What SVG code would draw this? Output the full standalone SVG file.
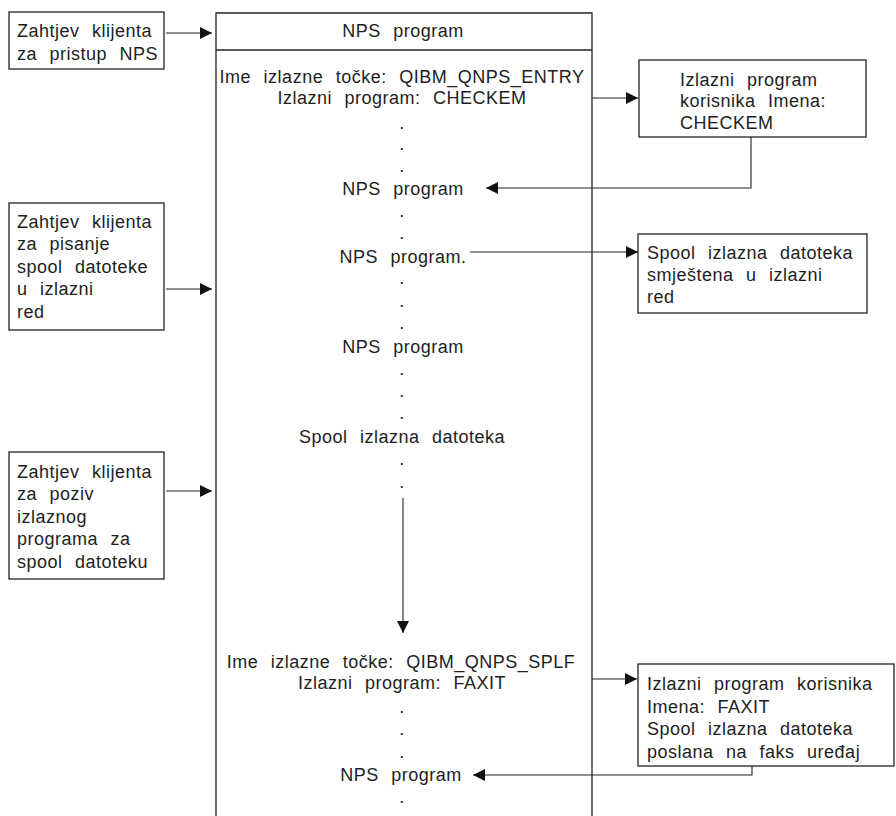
<svg xmlns="http://www.w3.org/2000/svg" width="896" height="816" viewBox="0 0 896 816">
  <style>
    text { font-family: "Liberation Sans", Arial, sans-serif; font-size: 18px; fill: #1e1e1e; letter-spacing: 0.5px; word-spacing: 7px; }
    .c { text-anchor: middle; }
    .box { fill: #ffffff; stroke: #222222; stroke-width: 1.3; }
    .ln { fill: none; stroke: #222222; stroke-width: 1.1; }
  </style>
  <defs>
    <marker id="arrow" markerUnits="userSpaceOnUse" markerWidth="13" markerHeight="12" refX="12" refY="6" orient="auto">
      <path d="M0,0 L12,6 L0,12 z" fill="#111111"/>
    </marker>
  </defs>
  <rect width="896" height="816" fill="#ffffff"/>

  <!-- NPS program column (open at the bottom) -->
  <g id="nps-main">
    <path class="ln" d="M216,818 V13 H592 V818" style="stroke-width:1.3"/>
    <line class="ln" x1="216" y1="50" x2="592" y2="50" style="stroke-width:1.3"/>
    <text class="c" x="403" y="37">NPS program</text>
    <text class="c" x="402" y="83">Ime izlazne točke: QIBM_QNPS_ENTRY</text>
    <text class="c" x="402" y="104">Izlazni program: CHECKEM</text>
    <text class="c" x="402" y="129">.</text>
    <text class="c" x="402" y="150">.</text>
    <text class="c" x="402" y="172">.</text>
    <text class="c" x="403" y="195">NPS program</text>
    <text class="c" x="402" y="217">.</text>
    <text class="c" x="402" y="239">.</text>
    <text class="c" x="403" y="263">NPS program.</text>
    <text class="c" x="402" y="284">.</text>
    <text class="c" x="402" y="307">.</text>
    <text class="c" x="402" y="329">.</text>
    <text class="c" x="403" y="353">NPS program</text>
    <text class="c" x="402" y="375">.</text>
    <text class="c" x="402" y="397">.</text>
    <text class="c" x="402" y="419">.</text>
    <text class="c" x="402" y="443">Spool izlazna datoteka</text>
    <text class="c" x="402" y="465">.</text>
    <text class="c" x="402" y="488">.</text>
    <text class="c" x="401" y="668">Ime izlazne točke: QIBM_QNPS_SPLF</text>
    <text class="c" x="402" y="689">Izlazni program: FAXIT</text>
    <text class="c" x="402" y="713">.</text>
    <text class="c" x="402" y="735">.</text>
    <text class="c" x="402" y="758">.</text>
    <text class="c" x="401" y="781">NPS program</text>
    <text class="c" x="402" y="803">.</text>
  </g>

  <!-- client requests -->
  <g id="req-access">
    <rect class="box" x="9" y="12" width="155" height="57"/>
    <text x="17" y="37">Zahtjev klijenta</text>
    <text x="17" y="60">za pristup NPS</text>
  </g>
  <g id="req-write">
    <rect class="box" x="9" y="203" width="155" height="127"/>
    <text x="17" y="228">Zahtjev klijenta</text>
    <text x="17" y="250">za pisanje</text>
    <text x="17" y="273">spool datoteke</text>
    <text x="17" y="295">u izlazni</text>
    <text x="17" y="318">red</text>
  </g>
  <g id="req-exit">
    <rect class="box" x="9" y="452" width="155" height="127"/>
    <text x="17" y="478">Zahtjev klijenta</text>
    <text x="17" y="500">za poziv</text>
    <text x="17" y="523">izlaznog</text>
    <text x="17" y="545">programa za</text>
    <text x="17" y="568">spool datoteku</text>
  </g>

  <!-- user exit programs and outputs -->
  <g id="exit-checkem">
    <rect class="box" x="639" y="60" width="227" height="77"/>
    <text x="680" y="86">Izlazni program</text>
    <text x="680" y="107">korisnika Imena:</text>
    <text x="680" y="129">CHECKEM</text>
  </g>
  <g id="spool-queue">
    <rect class="box" x="638" y="234" width="229" height="79"/>
    <text x="647" y="259">Spool izlazna datoteka</text>
    <text x="647" y="281">smještena u izlazni</text>
    <text x="647" y="303">red</text>
  </g>
  <g id="exit-faxit">
    <rect class="box" x="638" y="664" width="256" height="102"/>
    <text x="647" y="690">Izlazni program korisnika</text>
    <text x="647" y="713">Imena: FAXIT</text>
    <text x="647" y="735">Spool izlazna datoteka</text>
    <text x="647" y="758">poslana na faks uređaj</text>
  </g>

  <g id="connectors">
    <line class="ln" x1="166" y1="33" x2="212" y2="33" marker-end="url(#arrow)"/>
    <line class="ln" x1="166" y1="289" x2="212" y2="289" marker-end="url(#arrow)"/>
    <line class="ln" x1="166" y1="491" x2="212" y2="491" marker-end="url(#arrow)"/>
    <line class="ln" x1="592" y1="98" x2="638" y2="98" marker-end="url(#arrow)"/>
    <polyline class="ln" points="751,137 751,188 486,188" marker-end="url(#arrow)"/>
    <line class="ln" x1="470" y1="252" x2="638" y2="252" marker-end="url(#arrow)"/>
    <line class="ln" x1="403" y1="498" x2="403" y2="633" marker-end="url(#arrow)"/>
    <line class="ln" x1="592" y1="679" x2="637" y2="679" marker-end="url(#arrow)"/>
    <polyline class="ln" points="752,766 752,775 473,775" marker-end="url(#arrow)"/>
  </g>
</svg>
